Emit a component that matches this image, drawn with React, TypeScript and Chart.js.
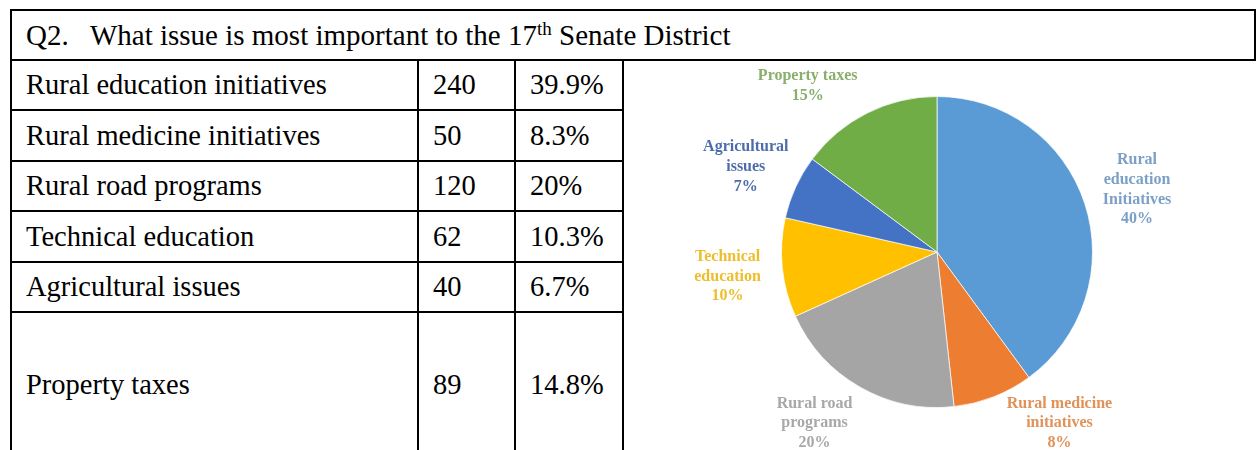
import React, { useEffect, useRef } from "react";
import { Chart, registerables } from "chart.js";

Chart.register(...registerables);

// ---- data ----
const issues = [
  "Rural education initiatives",
  "Rural medicine initiatives",
  "Rural road programs",
  "Technical education",
  "Agricultural issues",
  "Property taxes",
];
const counts = [240, 50, 120, 62, 40, 89];
const percents = ["39.9%", "8.3%", "20%", "10.3%", "6.7%", "14.8%"];
const pieLabelLines = [
  ["Rural", "education", "Initiatives"],
  ["Rural medicine", "initiatives"],
  ["Rural road", "programs"],
  ["Technical", "education"],
  ["Agricultural", "issues"],
  ["Property taxes"],
];
const sliceColors = ["#5B9BD5", "#ED7D31", "#A5A5A5", "#FFC000", "#4472C4", "#70AD47"];
const labelColors = ["#7c9fc8", "#e0925a", "#a8a8a8", "#eebd2c", "#4d6daa", "#8aae6c"];

// ---- layout (table grid lines) ----
const colX = [11, 418, 515, 623];
const rightX = 1255;
const headerTop = 10;
const rowLines = [60, 110, 161, 211, 262, 312, 458];

const FONT = '"Liberation Serif", "Times New Roman", serif';

const labelPlugin = {
  id: "outsideLabels",
  afterDatasetsDraw(chart: any) {
    const ctx = chart.ctx;
    const meta = chart.getDatasetMeta(0);
    const data = chart.data.datasets[0].data as number[];
    const total = data.reduce((a, b) => a + b, 0);
    const lh = 19.8;
    ctx.save();
    ctx.font = `bold 16px ${FONT}`;
    ctx.textAlign = "center";
    ctx.textBaseline = "middle";
    meta.data.forEach((arc: any, i: number) => {
      const p = arc.getProps(["x", "y", "startAngle", "endAngle", "outerRadius"], true);
      const mid = (p.startAngle + p.endAngle) / 2;
      const dist = p.outerRadius + 55;
      let lx = p.x + Math.cos(mid) * dist;
      let ly = p.y + Math.sin(mid) * dist + 3;
      const lines = [...pieLabelLines[i], `${Math.round((data[i] / total) * 100)}%`];
      const half = ((lines.length - 1) * lh) / 2;
      const minY = 14 + half;
      const maxY = chart.height - 7 - half;
      if (ly < minY || ly > maxY) {
        ly = Math.min(Math.max(ly, minY), maxY);
        const dy = ly - p.y;
        const dx = Math.sqrt(Math.max(dist * dist - dy * dy, 0));
        lx = p.x + Math.sign(Math.cos(mid)) * dx;
      }
      ctx.fillStyle = labelColors[i];
      lines.forEach((t, k) => {
        ctx.fillText(t, lx, ly - half + k * lh);
      });
    });
    ctx.restore();
  },
};

function Cell(props: {
  x0: number;
  x1: number;
  y0: number;
  y1: number;
  size?: number;
  children?: React.ReactNode;
}) {
  const { x0, x1, y0, y1, children, size } = props;
  return (
    <div
      style={{
        position: "absolute",
        left: x0 - 1,
        top: y0 - 1,
        width: x1 - x0 + 2,
        height: y1 - y0 + 2,
        boxSizing: "border-box",
        border: "2px solid #000",
        display: "flex",
        alignItems: "center",
        paddingLeft: 14,
        fontFamily: FONT,
        fontSize: size ?? 28.5,
        color: "#000",
        whiteSpace: "pre",
        overflow: "hidden",
      }}
    >
      {children}
    </div>
  );
}

function PieChart() {
  const ref = useRef<HTMLCanvasElement | null>(null);
  useEffect(() => {
    if (!ref.current) return;
    const chart = new Chart(ref.current, {
      type: "pie",
      data: {
        labels: issues,
        datasets: [
          {
            data: counts,
            backgroundColor: sliceColors,
            borderColor: "rgba(255,255,255,0.7)",
            borderWidth: 1,
          },
        ],
      },
      options: {
        responsive: false,
        animation: false,
        layout: { padding: { top: 34, bottom: 42, left: 0, right: 0 } },
        plugins: {
          legend: { display: false },
          tooltip: { enabled: false },
        },
      },
      plugins: [labelPlugin],
    });
    return () => chart.destroy();
  }, []);
  return (
    <canvas
      ref={ref}
      width={624}
      height={388}
      style={{ position: "absolute", left: 625, top: 62, width: 624, height: 388 }}
    />
  );
}

export default function App() {
  return (
    <div
      style={{
        position: "absolute",
        left: 0,
        top: 0,
        width: 1257,
        height: 450,
        overflow: "hidden",
        background: "#fff",
      }}
    >
      <Cell x0={colX[0]} x1={rightX} y0={headerTop} y1={rowLines[0]} size={29}>
        <span>
          {"Q2.   What issue is most important to the 17"}
          <span style={{ fontSize: 19, position: "relative", top: -10 }}>th</span>
          {" Senate District"}
        </span>
      </Cell>
      {issues.map((name, i) => (
        <React.Fragment key={name}>
          <Cell x0={colX[0]} x1={colX[1]} y0={rowLines[i]} y1={rowLines[i + 1]}>
            {name}
          </Cell>
          <Cell x0={colX[1]} x1={colX[2]} y0={rowLines[i]} y1={rowLines[i + 1]}>
            {String(counts[i])}
          </Cell>
          <Cell x0={colX[2]} x1={colX[3]} y0={rowLines[i]} y1={rowLines[i + 1]}>
            {percents[i]}
          </Cell>
        </React.Fragment>
      ))}
      <PieChart />
    </div>
  );
}
